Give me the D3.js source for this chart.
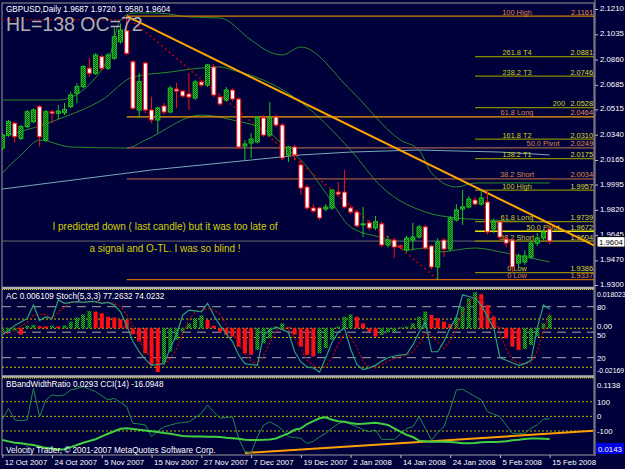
<!DOCTYPE html>
<html>
<head>
<meta charset="utf-8">
<script src="https://cdn.jsdelivr.net/npm/d3@7"></script>
<style>
  body { margin: 0; background: #00003a; }
  svg { display: block; }
  text { font-family: "Liberation Sans", Arial, sans-serif; }
</style>
</head>
<body>
<script>
// ---- data ----
var tickLabels = ["12 Oct 2007","24 Oct 2007","5 Nov 2007","15 Nov 2007","27 Nov 2007","7 Dec 2007",
                  "19 Dec 2007","2 Jan 2008","14 Jan 2008","24 Jan 2008","5 Feb 2008","15 Feb 2008"];
var tickIdx = [0, 8, 16, 24, 32, 40, 48, 56, 64, 72, 80, 88];

var open = [2.0248,2.0338,2.0420,2.0315,2.0396,2.0430,2.0534,2.0303,2.0499,2.0488,2.0492,2.0534,2.0627,2.0673,2.0800,2.0765,2.0880,2.0800,2.0869,2.0984,
            2.1060,2.0845,2.0511,2.0836,2.0511,2.0442,2.0539,2.0497,2.0656,2.0642,2.0622,2.0594,2.0705,2.0684,2.0809,2.0601,2.0580,2.0649,2.0587,2.0262,
            2.0283,2.0290,2.0456,2.0338,2.0463,2.0407,2.0200,2.0255,2.0131,1.9978,1.9833,1.9833,1.9826,1.9833,1.9943,1.9943,1.9833,1.9805,1.9716,1.9730,
            1.9695,1.9723,1.9577,1.9611,1.9570,1.9542,1.9611,1.9632,1.9702,1.9570,1.9425,1.9611,1.9549,1.9750,1.9826,1.9840,1.9888,1.9860,1.9874,1.9688,
            1.9737,1.9618,1.9611,1.9452,1.9459,1.9494,1.9590,1.9625,1.9687];
var high = [2.0350,2.0442,2.0430,2.0407,2.0511,2.0522,2.0546,2.0511,2.0511,2.0546,2.0560,2.0638,2.0696,2.0823,2.0869,2.0904,2.0892,2.0904,2.1080,2.1110,
            2.1161,2.0857,2.0767,2.0846,2.0603,2.0535,2.0560,2.0680,2.0698,2.0650,2.0767,2.0720,2.0720,2.0830,2.0830,2.0615,2.0670,2.0660,2.0600,2.0303,
            2.0352,2.0470,2.0475,2.0567,2.0480,2.0420,2.0262,2.0270,2.0165,1.9995,1.9860,1.9840,1.9860,1.9964,2.0013,2.0096,1.9850,1.9820,1.9840,1.9750,
            1.9778,1.9740,1.9640,1.9625,1.9580,1.9640,1.9730,1.9716,1.9716,1.9580,1.9625,1.9625,1.9778,1.9860,1.9957,1.9916,1.9910,1.9957,1.9950,1.9760,
            1.9750,1.9640,1.9625,1.9520,1.9540,1.9610,1.9660,1.9690,1.9720];
var low  = [2.0230,2.0325,2.0285,2.0303,2.0384,2.0420,2.0257,2.0292,2.0419,2.0448,2.0476,2.0523,2.0557,2.0661,2.0742,2.0754,2.0780,2.0788,2.0858,2.0970,
            2.0890,2.0511,2.0456,2.0490,2.0419,2.0352,2.0480,2.0488,2.0525,2.0595,2.0511,2.0580,2.0670,2.0670,2.0600,2.0540,2.0570,2.0570,2.0240,2.0165,
            2.0179,2.0280,2.0325,2.0325,2.0390,2.0165,2.0150,2.0165,1.9922,1.9820,1.9800,1.9750,1.9810,1.9820,1.9909,1.9830,1.9790,1.9700,1.9632,1.9680,
            1.9680,1.9560,1.9560,1.9487,1.9550,1.9530,1.9542,1.9620,1.9542,1.9410,1.9337,1.9494,1.9535,1.9740,1.9716,1.9830,1.9850,1.9850,1.9650,1.9660,
            1.9610,1.9560,1.9386,1.9420,1.9440,1.9480,1.9570,1.9610,1.9580];
var close = [2.0338,2.0430,2.0326,2.0396,2.0499,2.0511,2.0326,2.0499,2.0488,2.0504,2.0515,2.0615,2.0673,2.0811,2.0765,2.0892,2.0800,2.0892,2.1018,2.1065,
             2.0903,2.0523,2.0707,2.0511,2.0442,2.0525,2.0497,2.0663,2.0642,2.0608,2.0601,2.0705,2.0684,2.0823,2.0615,2.0553,2.0649,2.0587,2.0255,2.0276,
             2.0310,2.0456,2.0338,2.0456,2.0407,2.0179,2.0255,2.0200,1.9971,1.9833,1.9812,1.9764,1.9840,1.9957,1.9929,1.9840,1.9805,1.9709,1.9723,1.9695,
             1.9737,1.9577,1.9611,1.9563,1.9563,1.9625,1.9632,1.9702,1.9556,1.9425,1.9598,1.9549,1.9764,1.9819,1.9840,1.9895,1.9860,1.9902,1.9667,1.9737,
             1.9632,1.9590,1.9425,1.9501,1.9501,1.9590,1.9625,1.9667,1.9604];

// bands and slow average, [bar index, price] read at the visible bends
var bbUpper = [[0,2.0580],[9,2.0580],[17,2.0857],[19,2.1134],[21,2.1182],[25,2.1182],[30,2.1155],[35,2.1148],[40,2.0995],[43,2.0912],
               [45,2.0892],[48,2.0947],[56,2.0649],[64,2.0303],[67,2.0234],[69,2.0075],[73,1.9978],[76,2.0006],[88,2.0006]];
var bbMid   = [[0,2.0326],[10,2.0463],[16,2.0580],[21,2.0739],[27,2.0774],[32,2.0802],[35,2.0809],[37,2.0788],[43,2.0698],[48,2.0566],
               [56,2.0234],[61,1.9978],[68,1.9805],[73,1.9764],[78,1.9750],[86,1.9738],[88,1.9735]];
var bbLower = [[0,2.0075],[3,2.0200],[6,2.0303],[11,2.0255],[20,2.0248],[23,2.0303],[32,2.0476],[37,2.0442],[43,2.0352],[46,2.0234],
               [48,2.0165],[52,1.9937],[56,1.9701],[62,1.9611],[65,1.9542],[68,1.9556],[70,1.9528],[76,1.9556],[81,1.9521],[88,1.9459]];
var slowMA  = [[0,1.9964],[24,2.0096],[40,2.0165],[48,2.0200],[56,2.0220],[67,2.0234],[80,2.0220],[88,2.0200]];

// fibonacci levels (two sets) and their captions
var fib1Prices = [2.1161, 2.0464, 2.0249, 2.0034, 1.9337];
var fib1Names  = ["100 High", "61.8 Long", "50.0 Pivot", "38.2 Short", "0 Low"];
var fib2Prices = [2.0881, 2.0746, 2.0528, 2.0310, 2.0175, 1.9957, 1.9739, 1.9672, 1.9604, 1.9386];
var fib2Names  = ["261.8 T4", "238.2 T3", "200", "161.8 T2", "138.2 T1", "100 High", "61.8 Long", "50.0 Pivot", "38.2 Short", "0 Low"];
var fib1Start = 20, fib2Start = 76;

var trendA = [20, 2.1161], trendB = [77, 1.9957];       // orange trend line (ray)
var zigA = [20, 2.1161], zigB = [70, 1.9337];           // red dotted high-low line
var priceTicks = [2.1210,2.1035,2.0860,2.0685,2.0515,2.0340,2.0165,1.9995,1.9820,1.9645,1.9470,1.9300];

// AC + stochastic panel
var ac = [-0.0025,-0.0015,-0.0013,-0.0030,0.0012,0.0016,0.0010,0.0009,0.0012,0.0009,0.0014,0.0031,0.0050,0.0065,0.0081,0.0078,0.0070,0.0054,0.0050,0.0042,
          0.0039,-0.0028,-0.0062,-0.0117,-0.0171,-0.0205,-0.0163,-0.0109,-0.0054,-0.0016,0.0023,0.0047,0.0060,0.0039,0.0012,-0.0016,-0.0030,-0.0039,-0.0086,-0.0117,
          -0.0124,-0.0101,-0.0070,-0.0047,0.0008,0.0023,0.0005,-0.0030,-0.0086,-0.0124,-0.0132,-0.0117,-0.0093,-0.0054,0.0008,0.0054,0.0065,0.0054,0.0023,-0.0016,
          -0.0039,-0.0031,-0.0020,-0.0016,0.0004,0.0008,0.0023,0.0054,0.0078,0.0062,0.0047,0.0031,0.0019,0.0050,0.0101,0.0140,0.0168,0.0159,0.0109,0.0054,
          0.0003,-0.0047,-0.0086,-0.0101,-0.0097,-0.0078,-0.0039,0.0023,0.0061];
var stochMain = [47,52,58,62,66,82,64,68,66,88,84,85,86,85,86,86,84,85,82,74,58,39,27,18,11,12,13,31,47,70,76,75,74,84,70,58,48,39,23,13,
                 12,11,47,52,56,53,50,27,15,9,8,3,20,38,50,55,30,12,6,8,11,16,20,22,23,24,35,50,62,27,27,39,55,68,94,92,90,82,68,55,
                 20,17,14,11,13,17,55,82,77];
var stochSignal = [50,48,52,57,62,70,71,71,66,74,79,86,85,85,86,86,85,85,84,80,71,57,41,28,19,14,12,19,30,49,64,74,75,78,76,71,59,48,37,25,
                   16,12,23,37,52,54,53,43,31,17,11,7,10,20,36,48,45,32,16,9,8,12,16,19,22,23,27,36,49,46,39,31,40,54,72,85,92,88,80,68,
                   48,31,17,14,13,14,28,51,74];
var acLevels = [0.0182, 0.0043, 0, -0.0043, -0.0182];
var stochLevels = [80, 50, 20];

// BBandWidthRatio + CCI panel
var cci = [-25,55,-25,-30,-25,192,-3,112,146,140,146,180,190,203,185,169,140,112,123,95,66,-48,-52,-59,-139,-100,-71,-60,-48,-42,
           -37,-10,21,78,30,-13,-8,-3,-150,-240,-250,-140,-60,-37,-60,-90,-139,-145,-150,-185,-170,-140,-116,-80,-50,-37,-55,-71,-90,-105,
           -93,-157,-157,-157,-120,-82,-71,-3,-80,-162,-110,-71,50,180,185,160,135,112,32,15,-3,-60,-116,-116,-116,-80,-59,-20,-16];
var bbw = [0.0279,0.0260,0.0240,0.0233,0.0220,0.0210,0.0190,0.0170,0.0160,0.0145,0.0150,0.0180,0.0210,0.0240,0.0265,0.0290,0.0330,0.0365,0.0400,0.0435,
           0.0441,0.0430,0.0420,0.0410,0.0400,0.0390,0.0375,0.0365,0.0350,0.0335,0.0330,0.0328,0.0326,0.0325,0.0324,0.0320,0.0310,0.0302,0.0295,0.0282,
           0.0279,0.0280,0.0282,0.0286,0.0300,0.0335,0.0370,0.0420,0.0440,0.0500,0.0540,0.0579,0.0593,0.0560,0.0540,0.0532,0.0515,0.0500,0.0505,0.0512,
           0.0518,0.0505,0.0487,0.0440,0.0395,0.0350,0.0320,0.0270,0.0260,0.0255,0.0255,0.0255,0.0250,0.0245,0.0235,0.0233,0.0238,0.0247,0.0250,0.0252,
           0.0255,0.0262,0.0275,0.0282,0.0292,0.0300,0.0300,0.0296,0.0293];
var cciLevels = [100, 0, -100];
var cciTrendA = [39, -250], cciTrendB = [95, -99];

// ---- layout ----
var W = 625, H = 469;
var left = 2, right = 594;
var svg = d3.select("body").append("svg").attr("width", W).attr("height", H)
  .style("background", "#00003a");

var defs = svg.append("defs");
var hatch = defs.append("pattern").attr("id", "hatch").attr("width", 2).attr("height", 2)
  .attr("patternUnits", "userSpaceOnUse");
hatch.append("rect").attr("width", 2).attr("height", 2).attr("fill", "#003a10");
hatch.append("rect").attr("width", 1).attr("height", 1).attr("fill", "#1ec81e");
hatch.append("rect").attr("x", 1).attr("y", 1).attr("width", 1).attr("height", 1).attr("fill", "#1ec81e");

function clip(id, y0, y1) {
  defs.append("clipPath").attr("id", id).append("rect")
    .attr("x", left).attr("y", y0).attr("width", right - left).attr("height", y1 - y0);
}
clip("cMain", 3, 288);
clip("cAC", 290, 375);
clip("cCCI", 378, 455);

var x = d3.scaleLinear().domain([0, 88]).range([2.3, 549.7]);
var y = d3.scaleLinear().domain([1.9300, 2.1210]).range([285, 9]);
var yAC = d3.scaleLinear().domain([-0.02169, 0.018023]).range([374.7, 289.7]);
var yST = d3.scaleLinear().domain([0, 100]).range([374.7, 289.7]);
var yCCI = d3.scaleLinear().domain([-100, 100]).range([431, 401.7]);
var yBBW = d3.scaleLinear().domain([0.0071, 0.1138]).range([455, 378]);

var axisFont = 7.8, fibFont = 7.4;

// frames
var frame = svg.append("g");
frame.append("rect").attr("x", left).attr("y", 3).attr("width", right - left).attr("height", 452)
  .attr("fill", "none").attr("stroke", "#9a9a9a");
[288, 376.5].forEach(function (yy) {
  frame.append("line").attr("x1", left).attr("x2", right).attr("y1", yy).attr("y2", yy)
    .attr("stroke", "#b0b0b0").attr("stroke-width", 2.5);
  frame.append("line").attr("x1", left).attr("x2", right).attr("y1", yy + 1.5).attr("y2", yy + 1.5)
    .attr("stroke", "#d8d800").attr("stroke-dasharray", "1,1");
});

// ---- main panel ----
var main = svg.append("g").attr("clip-path", "url(#cMain)");
var pline = d3.line().x(function (d) { return x(d[0]); }).y(function (d) { return y(d[1]); });

main.append("path").datum(slowMA).attr("d", pline).attr("fill", "none").attr("stroke", "#78a8b8").attr("stroke-width", 1);
[bbUpper, bbMid, bbLower].forEach(function (b) {
  main.append("path").datum(b).attr("d", pline.curve(d3.curveMonotoneX)).attr("fill", "none")
    .attr("stroke", "#2a8a2a").attr("stroke-width", 1);
});
pline.curve(d3.curveLinear);

// grey bid line
main.append("line").attr("x1", left).attr("x2", right).attr("y1", y(close[88])).attr("y2", y(close[88]))
  .attr("stroke", "#6a6a6a");

// red dotted helper lines
main.append("line").attr("x1", left).attr("x2", x(zigA[0])).attr("y1", y(2.1136)).attr("y2", y(2.1136))
  .attr("stroke", "#c00000").attr("stroke-dasharray", "2,2");
main.append("line").attr("x1", x(zigA[0])).attr("y1", y(zigA[1])).attr("x2", x(zigB[0])).attr("y2", y(zigB[1]))
  .attr("stroke", "#c00000").attr("stroke-width", 1.5).attr("stroke-dasharray", "2,3");

// fib set 1 (orange)
var fib1Colors = ["#d88000", "#f0a000", "#a06050", "#a05a3c", "#c86800"];
fib1Prices.forEach(function (p, i) {
  main.append("line").attr("x1", x(fib1Start)).attr("x2", right).attr("y1", y(p)).attr("y2", y(p))
    .attr("stroke", fib1Colors[i]).attr("stroke-width", 1.3);
  main.append("text").attr("x", fib1Names[i] === "50.0 Pivot" ? 543 : 517).attr("y", y(p) - 1.5)
    .attr("text-anchor", "middle").attr("font-size", fibFont).attr("fill", "#d8884a").text(fib1Names[i]);
  main.append("text").attr("x", 593).attr("y", y(p) - 1.5).attr("text-anchor", "end")
    .attr("font-size", fibFont).attr("fill", "#e0904a").text(p.toFixed(4));
});
// fib set 2 (yellow)
fib2Prices.forEach(function (p, i) {
  var piv = fib2Names[i] === "50.0 Pivot";
  main.append("line").attr("x1", x(fib2Start)).attr("x2", right).attr("y1", y(p)).attr("y2", y(p))
    .attr("stroke", piv ? "#e8e800" : "#8a8a00").attr("stroke-width", piv ? 1.5 : 1.3);
  var tx = fib2Names[i] === "200" ? 565 : (piv ? 543 : 517);
  main.append("text").attr("x", tx).attr("y", y(p) - 1.5)
    .attr("text-anchor", fib2Names[i] === "200" ? "end" : "middle")
    .attr("font-size", fibFont).attr("fill", "#cccc20").text(fib2Names[i]);
  main.append("text").attr("x", 593).attr("y", y(p) - 1.5).attr("text-anchor", "end")
    .attr("font-size", fibFont).attr("fill", "#dede30").text(p.toFixed(4));
});

// orange trend line as a ray
var slope = (y(trendB[1]) - y(trendA[1])) / (x(trendB[0]) - x(trendA[0]));
main.append("line").attr("x1", x(trendA[0])).attr("y1", y(trendA[1]))
  .attr("x2", right).attr("y2", y(trendA[1]) + slope * (right - x(trendA[0])))
  .attr("stroke", "#ffa500").attr("stroke-width", 2);

// candles
var bars = d3.range(open.length);
var cg = main.selectAll("g.candle").data(bars).enter().append("g");
cg.append("line")
  .attr("x1", function (i) { return x(i); }).attr("x2", function (i) { return x(i); })
  .attr("y1", function (i) { return y(high[i]); }).attr("y2", function (i) { return y(low[i]); })
  .attr("stroke", function (i) { return close[i] >= open[i] ? "#1ec81e" : "#ff1010"; });
cg.append("rect")
  .attr("x", function (i) { return x(i) - 2; }).attr("width", 4)
  .attr("y", function (i) { return y(Math.max(open[i], close[i])); })
  .attr("height", function (i) { return Math.max(1, Math.abs(y(open[i]) - y(close[i]))); })
  .attr("fill", function (i) { return close[i] >= open[i] ? "url(#hatch)" : "#ffffff"; })
  .attr("stroke", function (i) { return close[i] >= open[i] ? "#1ec81e" : "#ff1010"; })
  .attr("stroke-width", 1);

// titles
svg.append("text").attr("x", 6).attr("y", 12).attr("font-size", 8.2).attr("fill", "#ffffff")
  .text("GBPUSD,Daily  1.9687 1.9720 1.9580 1.9604");
svg.append("text").attr("x", 6).attr("y", 31).attr("font-size", 19.5).attr("fill", "#b0b0b0")
  .text("HL=138 OC=72");
svg.append("text").attr("x", 165).attr("y", 230).attr("text-anchor", "middle").attr("font-size", 10)
  .attr("fill", "#d0d000").text("I predicted down ( last candle) but it was too late of");
svg.append("text").attr("x", 165).attr("y", 252).attr("text-anchor", "middle").attr("font-size", 10)
  .attr("fill", "#d0d000").text("a signal and O-TL. I was so blind !");

// price axis
var axP = svg.append("g").attr("transform", "translate(" + (right + 1) + ",0)")
  .call(d3.axisRight(y).tickValues(priceTicks).tickSize(3).tickFormat(d3.format(".4f")));
axP.select(".domain").remove();
axP.selectAll("line").attr("stroke", "#c0c0c0");
axP.selectAll("text").attr("fill", "#ffffff").attr("font-size", axisFont).attr("x", 5).attr("dy", "0.2em")
  .style("font-family", "Liberation Sans, Arial, sans-serif");
svg.append("line").attr("x1", right + 1).attr("x2", right + 1).attr("y1", 0).attr("y2", 456).attr("stroke", "#9a9a9a");
svg.append("rect").attr("x", right + 3).attr("y", y(close[88]) - 4.5).attr("width", 28).attr("height", 10.5)
  .attr("fill", "#ffffff").attr("stroke", "#000");
svg.append("text").attr("x", right + 5).attr("y", y(close[88]) + 3.5).attr("font-size", axisFont).attr("fill", "#000")
  .text(close[88].toFixed(4));

// ---- AC / stochastic panel ----
var acg = svg.append("g").attr("clip-path", "url(#cAC)");
acLevels.forEach(function (v) {
  acg.append("line").attr("x1", left).attr("x2", right).attr("y1", yAC(v)).attr("y2", yAC(v))
    .attr("stroke", "#c8c800").attr("stroke-dasharray", "2,2");
});
stochLevels.forEach(function (v) {
  acg.append("line").attr("x1", left).attr("x2", right).attr("y1", yST(v)).attr("y2", yST(v))
    .attr("stroke", "#a8a8a8").attr("stroke-dasharray", "9,6");
});
acg.selectAll("rect.ac").data(ac).enter().append("rect")
  .attr("x", function (d, i) { return x(i) - 2; }).attr("width", 4)
  .attr("y", function (d) { return Math.min(yAC(d), yAC(0)); })
  .attr("height", function (d) { return Math.abs(yAC(d) - yAC(0)); })
  .attr("fill", function (d, i) { return i > 0 && d < ac[i - 1] ? "#ff1010" : "url(#hatch)"; });
var sline = d3.line().x(function (d, i) { return x(i); }).y(function (d) { return yST(d); });
acg.append("path").datum(stochSignal).attr("d", sline).attr("fill", "none")
  .attr("stroke", "#c00000").attr("stroke-width", 1.3).attr("stroke-dasharray", "2,2");
acg.append("path").datum(stochMain).attr("d", sline).attr("fill", "none")
  .attr("stroke", "#2aa07a").attr("stroke-width", 1.2);
svg.append("text").attr("x", 6).attr("y", 299).attr("font-size", 8.2).attr("fill", "#ffffff")
  .text("AC 0.006109  Stoch(5,3,3) 77.2632 74.0232");

var lab2 = [["0.018023", 297], ["80", yST(80) + 3], ["0.00", yAC(0) + 1], ["50", yST(50) + 5.5], ["20", yST(20) + 3], ["-0.02169", 373]];
lab2.forEach(function (l) {
  svg.append("text").attr("x", 597).attr("y", l[1]).attr("font-size", l[0].length > 6 ? 6.9 : axisFont)
    .attr("fill", "#ffffff").text(l[0]);
});

// ---- BBandWidthRatio / CCI panel ----
var cg3 = svg.append("g").attr("clip-path", "url(#cCCI)");
cciLevels.forEach(function (v) {
  cg3.append("line").attr("x1", left).attr("x2", right).attr("y1", yCCI(v)).attr("y2", yCCI(v))
    .attr("stroke", "#b8b800").attr("stroke-dasharray", "2,2");
});
cg3.append("line").attr("x1", x(cciTrendA[0])).attr("y1", yCCI(cciTrendA[1]))
  .attr("x2", x(cciTrendB[0])).attr("y2", yCCI(cciTrendB[1]))
  .attr("stroke", "#ffa000").attr("stroke-width", 2);
cg3.append("path").datum(cci).attr("d", d3.line().x(function (d, i) { return x(i); }).y(function (d) { return yCCI(d); }))
  .attr("fill", "none").attr("stroke", "#1f8a4a").attr("stroke-width", 1);
cg3.append("path").datum(bbw).attr("d", d3.line().x(function (d, i) { return x(i); }).y(function (d) { return yBBW(d); }))
  .attr("fill", "none").attr("stroke", "#40d040").attr("stroke-width", 2);
svg.append("text").attr("x", 6).attr("y", 387).attr("font-size", 8.2).attr("fill", "#ffffff")
  .text("BBandWidthRatio 0.0293  CCI(14) -16.0948");
svg.append("text").attr("x", 6).attr("y", 453).attr("font-size", 8.2).attr("fill", "#ffffff")
  .text("Velocity Trader, \u00a9 2001-2007 MetaQuotes Software Corp.");

var lab3 = [["0.1138", 388], ["100", yCCI(100) + 3], ["0", yCCI(0) + 3], ["-100", yCCI(-100) + 3]];
lab3.forEach(function (l) {
  svg.append("text").attr("x", 597).attr("y", l[1]).attr("font-size", axisFont).attr("fill", "#ffffff").text(l[0]);
});
svg.append("rect").attr("x", 596).attr("y", 443).attr("width", 28).attr("height", 11).attr("fill", "#0000e0");
svg.append("text").attr("x", 598).attr("y", 451.5).attr("font-size", axisFont).attr("fill", "#ffffff").text("0.0143");

// ---- date axis ----
var axD = svg.append("g").attr("transform", "translate(0,455)")
  .call(d3.axisBottom(x).tickValues(tickIdx).tickSize(3).tickFormat(function (d, i) { return tickLabels[i]; }));
axD.select(".domain").remove();
axD.selectAll("line").attr("stroke", "#c0c0c0");
axD.selectAll("text").attr("fill", "#ffffff").attr("font-size", axisFont).attr("text-anchor", "start")
  .attr("x", 2).attr("y", 4).style("font-family", "Liberation Sans, Arial, sans-serif");
</script>
</body>
</html>
